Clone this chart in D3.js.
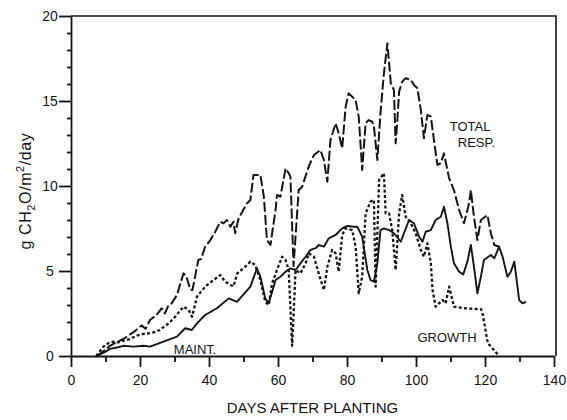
<!DOCTYPE html>
<html>
<head>
<meta charset="utf-8">
<script src="https://cdn.jsdelivr.net/npm/d3@7"></script>
<style>
  html, body { margin: 0; padding: 0; background: #fff; }
  svg { display: block; }
  text { font-family: "Liberation Sans", Arial, sans-serif; fill: #141414; }
</style>
</head>
<body>
<svg id="chart" width="567" height="420"></svg>
<script>
// Respiration components (g CH2O/m2/day) against days after planting

const totalDays = [7.5, 9.9, 11.3, 13.1, 15.2, 18.1, 20.5, 21.6, 22.9, 24.8, 26.3, 27.2, 28.3, 29.2, 30.7, 32.6, 33.4, 34.6, 35.2, 36.9, 37.7, 38.9, 40.4, 41.8, 43.3, 44.2, 45.2, 46.2, 47.1, 47.6, 48.6, 51, 52, 52.9, 54.9, 55.9, 56.8, 57.8, 59.3, 59.7, 60.7, 62.2, 63.1, 63.6, 64.5, 66, 67, 68.9, 70.4, 72.3, 73.3, 74.3, 75.2, 76.7, 77.6, 78.6, 79.6, 80.5, 82.5, 83.4, 84.4, 85.4, 86.3, 87.3, 87.8, 88.8, 89.7, 90.7, 91.7, 92.7, 93.6, 94.1, 94.6, 95.1, 96, 97, 98.5, 99.4, 100.4, 101.4, 102.3, 103.3, 104.3, 105.2, 106.2, 107.2, 108.1, 108.6, 109.6, 111, 112.5, 113.9, 115.4, 115.9, 116.8, 117.8, 118.8, 120.7, 121.7, 122.7, 124.1];
const totalResp = [0, 0.35, 0.6, 0.8, 1.0, 1.4, 1.8, 1.6, 2.12, 2.41, 2.81, 2.5, 3.0, 3.1, 3.59, 4.86, 4.7, 3.9, 3.88, 5.65, 5.7, 6.43, 6.82, 7.31, 7.9, 7.8, 8.0, 7.6, 7.9, 7.22, 8.1, 8.98, 9.18, 10.65, 10.65, 9.37, 6.82, 6.53, 8.59, 9.47, 9.37, 11.04, 10.75, 10.55, 5.3, 9.76, 9.96, 11.14, 11.82, 12.12, 11.53, 10.25, 12.7, 13.69, 13.1, 12.22, 14.66, 15.45, 15.06, 14.08, 10.94, 13.69, 13.88, 13.78, 13.49, 11.53, 14.28, 16.63, 18.39, 16.04, 15.65, 12.51, 13.88, 15.55, 16.14, 16.34, 16.24, 15.94, 15.75, 14.47, 12.81, 14.18, 14.08, 12.71, 11.24, 11.34, 11.92, 11.43, 10.45, 9.76, 8.59, 7.81, 8.98, 9.76, 8.19, 6.82, 8.0, 8.29, 7.22, 6.53, 6.43];

const maintDays = [7.5, 9.9, 11.3, 13.3, 15.2, 18.1, 21, 22.9, 26.8, 30.7, 33.1, 35, 36.5, 38.9, 42.3, 45.7, 48.1, 52, 53.9, 54.9, 56.3, 57.3, 58.3, 59.3, 60.7, 62.2, 63.6, 65.1, 66.5, 68, 69.4, 70.9, 71.8, 73.3, 74.7, 76.7, 78.6, 80.1, 82, 83, 84.4, 85.9, 86.8, 87.8, 88.8, 89.7, 90.7, 92.2, 93.6, 95.6, 96.5, 98, 99.4, 100.9, 101.9, 102.8, 104.3, 105.7, 107.2, 108.1, 109.1, 110.1, 111, 112.5, 113.7, 114.9, 115.9, 116.8, 117.8, 118.8, 119.7, 121.7, 122.7, 124.1, 125.1, 126.5, 127.5, 128.5, 129.9, 130.9, 131.9];
const maintResp = [0, 0.24, 0.42, 0.5, 0.6, 0.55, 0.6, 0.55, 0.84, 1.14, 1.63, 1.53, 1.92, 2.41, 2.81, 3.39, 3.19, 4.08, 5.16, 4.66, 3.39, 3.1, 3.78, 4.47, 4.66, 4.96, 5.16, 5.06, 5.45, 5.84, 6.24, 6.34, 6.53, 6.43, 6.92, 7.12, 7.51, 7.65, 7.6, 7.6, 7.02, 5.06, 4.47, 4.37, 5.45, 7.41, 7.51, 7.41, 7.22, 6.72, 7.22, 8.0, 7.81, 7.02, 6.72, 7.31, 7.41, 8.0, 8.19, 8.78, 7.81, 6.43, 5.45, 4.96, 4.8, 5.55, 6.53, 5.25, 3.69, 4.66, 5.65, 5.94, 5.75, 6.43, 5.84, 4.66, 4.96, 5.55, 3.29, 3.1, 3.19];

const growthDays = [7.3, 9.4, 10.8, 12.3, 13.7, 15.2, 17.1, 19.1, 21, 22.8, 24.2, 25.7, 28.3, 30.2, 32.6, 34.1, 35.1, 36.5, 38.9, 41.3, 43.3, 44.7, 46.2, 47.1, 48.2, 50.5, 52, 53.4, 54.9, 56.3, 57.3, 58.3, 59.7, 61.2, 62.2, 63.1, 64.1, 65.1, 66.5, 68, 68.9, 70.4, 71.8, 73.3, 74.3, 75.7, 76.7, 77.6, 78.6, 79.6, 81.5, 82.5, 83.4, 84.4, 85.4, 86.8, 87.8, 88.3, 89.3, 90.7, 91.2, 92.2, 93.1, 94.1, 95.1, 96, 97, 98.5, 99.9, 101.4, 102.3, 103.3, 104.3, 104.8, 105.7, 106.7, 107.7, 108.6, 109.6, 111, 113.9, 118.9, 119.4, 120.3, 120.8, 123.1, 124];
const growthResp = [0, 0.55, 0.75, 0.84, 0.8, 0.9, 1.0, 1.2, 1.3, 1.34, 1.4, 1.53, 1.92, 2.31, 2.9, 2.71, 2.31, 3.49, 4.08, 4.47, 4.76, 4.37, 4.18, 4.1, 4.86, 5.25, 5.55, 5.35, 4.47, 3.19, 3.0, 4.28, 5.06, 5.84, 5.65, 5.06, 0.6, 5.06, 4.86, 5.45, 6.04, 5.84, 4.86, 3.88, 5.25, 6.24, 6.04, 4.96, 7.12, 7.51, 7.41, 6.43, 3.69, 4.66, 8.39, 9.08, 9.18, 4.08, 10.35, 10.75, 8.39, 8.39, 7.41, 5.06, 8.39, 9.47, 8.19, 7.81, 7.22, 6.24, 5.84, 6.63, 5.45, 3.88, 2.9, 3.1, 3.29, 3.1, 4.08, 2.9, 2.81, 2.75, 2.41, 1.34, 0.76, 0.24, 0];

const xTickValues = [0, 10, 20, 30, 40, 50, 60, 70, 80, 90, 100, 110, 120, 130, 140];
const yTickValues = [0, 1, 2, 3, 4, 5, 6, 7, 8, 9, 10, 11, 12, 13, 14, 15, 16, 17, 18, 19, 20];

const curveLabels = [
  { lines: ["TOTAL", "RESP."], day: 109.8, value: 13.25, dx: [0, 8] },
  { lines: ["MAINT."], day: 29.8, value: 0.1, dx: [0] },
  { lines: ["GROWTH"], day: 100.4, value: 0.8, dx: [0] }
];

const svg = d3.select("#chart");
const ink = "#141414";
const font = '"Liberation Sans", Arial, sans-serif';

const x = d3.scaleLinear().domain([0, 140]).range([71, 554]);
const y = d3.scaleLinear().domain([0, 20]).range([356, 16]);

// frame: top and right edges
svg.append("path")
  .attr("d", `M${x(0)},${y(20)}H${x(140) + 2}V${y(0)}`)
  .attr("fill", "none").attr("stroke", ink).attr("stroke-width", 1.6);

// x axis
const gx = svg.append("g")
  .attr("transform", `translate(0,${y(0)})`)
  .call(d3.axisBottom(x).tickValues(xTickValues).tickSizeOuter(0)
    .tickFormat(d => d % 20 === 0 ? d : ""));
gx.select(".domain").attr("stroke", ink).attr("stroke-width", 1.8);
gx.selectAll(".tick line")
  .attr("stroke", ink).attr("stroke-width", 1.8)
  .attr("y2", d => d % 20 === 0 ? 11 : 6);
gx.selectAll(".tick text")
  .attr("y", 19).attr("font-size", 14).style("font-family", font);

// y axis
const gy = svg.append("g")
  .attr("transform", `translate(${x(0)},0)`)
  .call(d3.axisLeft(y).tickValues(yTickValues).tickSizeOuter(0)
    .tickFormat(d => d % 5 === 0 ? d : ""));
gy.select(".domain").attr("stroke", ink).attr("stroke-width", 1.8);
gy.selectAll(".tick line")
  .attr("stroke", ink).attr("stroke-width", 1.8)
  .attr("x2", d => d % 5 === 0 ? -12 : -4);
gy.selectAll(".tick text")
  .attr("x", -21).attr("text-anchor", "middle")
  .attr("font-size", 14).style("font-family", font);

svg.selectAll(".tick text").attr("fill", ink);

// axis titles
svg.append("text")
  .attr("x", (x(0) + x(140)) / 2).attr("y", 413)
  .attr("text-anchor", "middle").attr("font-size", 15)
  .text("DAYS AFTER PLANTING");

const yt = svg.append("text")
  .attr("transform", `translate(31,191) rotate(-90)`)
  .attr("text-anchor", "middle").attr("font-size", 16)
  .attr("letter-spacing", 0.6);
yt.append("tspan").text("g CH");
yt.append("tspan").attr("font-size", 11).attr("dy", 4).text("2");
yt.append("tspan").attr("dy", -4).text("O/m");
yt.append("tspan").attr("font-size", 11).attr("dy", -7).text("2");
yt.append("tspan").attr("dy", 7).text("/day");

// series
const line = d3.line().x(d => x(d[0])).y(d => y(d[1]));
const zipSeries = (days, vals) => days.map((d, i) => [d, vals[i]]);

const series = [
  { data: zipSeries(maintDays, maintResp), dash: null, width: 1.9 },
  { data: zipSeries(growthDays, growthResp), dash: "3,2.3", width: 2.3 },
  { data: zipSeries(totalDays, totalResp), dash: "10,3", width: 2.0 }
];

svg.append("g").selectAll("path")
  .data(series)
  .join("path")
  .attr("d", s => line(s.data))
  .attr("fill", "none")
  .attr("stroke", ink)
  .attr("stroke-width", s => s.width)
  .attr("stroke-dasharray", s => s.dash)
  .attr("stroke-linejoin", "round");

// curve labels
curveLabels.forEach(l => {
  const t = svg.append("text")
    .attr("x", x(l.day)).attr("y", y(l.value))
    .attr("font-size", 13);
  l.lines.forEach((s, i) => {
    t.append("tspan").attr("x", x(l.day) + l.dx[i]).attr("dy", i === 0 ? 0 : 16.5).text(s);
  });
});
</script>
</body>
</html>
